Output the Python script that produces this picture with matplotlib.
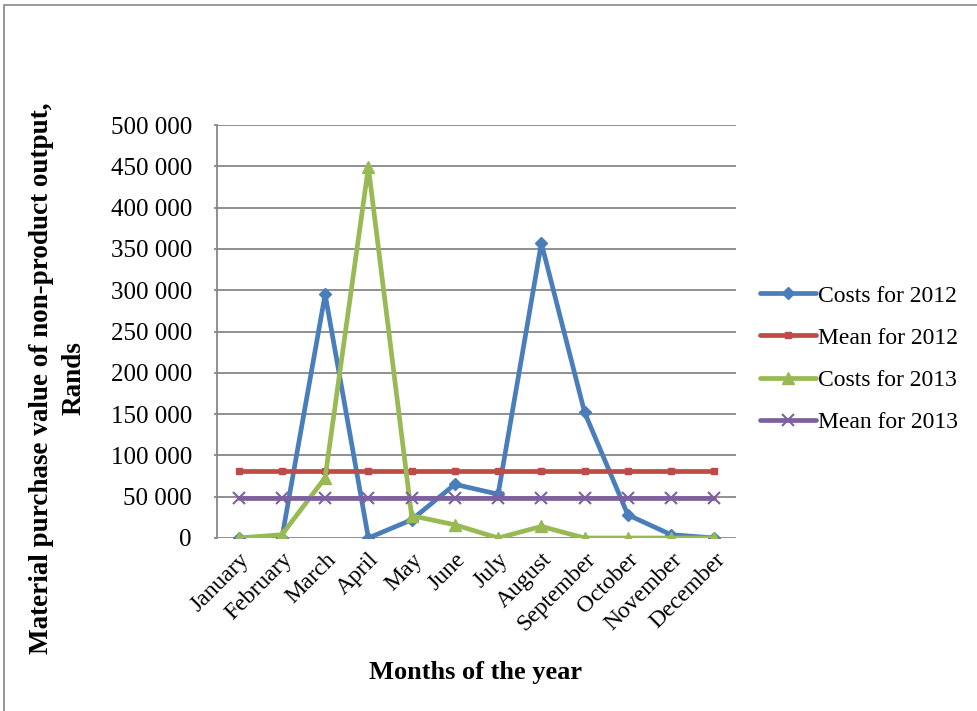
import matplotlib
matplotlib.use("Agg")
import matplotlib.pyplot as plt
from matplotlib.patches import Rectangle
from matplotlib.ticker import FuncFormatter, MultipleLocator

months = ["January", "February", "March", "April", "May", "June", "July",
          "August", "September", "October", "November", "December"]
costs_2012 = [0, 0, 295000, 0, 22000, 65000, 53000, 357000, 152000, 28000, 4000, 0]
mean_2012 = [81000] * 12
costs_2013 = [0, 4000, 73000, 449000, 27000, 16000, 0, 14000, 0, 0, 0, 0]
mean_2013 = [49000] * 12

plt.rcParams["font.family"] = ["Liberation Serif", "DejaVu Serif"]

fig = plt.figure(figsize=(9.77, 7.11), dpi=100)
ax = fig.add_axes([217 / 977, 1 - 538 / 711, (736 - 217) / 977, (538 - 125) / 711])

x = range(len(months))
ax.plot(x, costs_2012, color="#4a7ebb", lw=3.4, marker="D", ms=6, label="Costs for 2012",
        solid_joinstyle="round", solid_capstyle="round")
ax.plot(x, mean_2012, color="#be4b48", lw=3.4, marker="s", ms=5, label="Mean for 2012",
        solid_capstyle="round")
ax.plot(x, costs_2013, color="#98b954", lw=3.4, marker="^", ms=9, label="Costs for 2013",
        solid_joinstyle="round", solid_capstyle="round")
ax.plot(x, mean_2013, color="#7d60a0", lw=3.4, marker="x", ms=8, mew=1.5, label="Mean for 2013",
        solid_capstyle="round")

ax.set_xlim(-0.5, 11.5)
ax.set_ylim(0, 500000)
ax.yaxis.set_major_locator(MultipleLocator(50000))
ax.yaxis.set_major_formatter(FuncFormatter(lambda v, p: f"{int(v):,}".replace(",", " ")))
ax.grid(axis="y", color="#878787", lw=1.3)
ax.set_axisbelow(True)
for s in ["top", "right", "bottom"]:
    ax.spines[s].set_visible(False)
ax.spines["left"].set_color("#878787")
ax.spines["left"].set_linewidth(1.3)
ax.tick_params(axis="y", length=2, color="#878787", width=1.3, labelsize=18, pad=16)
ax.tick_params(axis="x", length=0, labelsize=17, pad=8)
ax.set_xticks(list(x))
ax.set_xticklabels(months, rotation=45, ha="right", rotation_mode="anchor")

fig.text(58 / 977, 1 - 378 / 711, "Material purchase value of non-product output,\nRands",
         rotation=90, ha="center", va="center", fontsize=19.5, fontweight="bold",
         multialignment="center", linespacing=1.38)
fig.text(476 / 977, 1 - 672 / 711, "Months of the year", ha="center", va="center",
         fontsize=19, fontweight="bold")

ax.legend(loc="center left", bbox_to_anchor=(739 / 977, 1 - 359 / 711),
          bbox_transform=fig.transFigure, frameon=False, fontsize=17,
          handlelength=2.35, handletextpad=0.1, labelspacing=0.87, markerscale=1.0)

fig.patches.append(Rectangle((3.5 / 977, -0.1), 1.2, 1.1 - 4.5 / 711, transform=fig.transFigure,
                             fill=False, edgecolor="#888888", lw=1.2))

fig.savefig("out.png", dpi=100)
